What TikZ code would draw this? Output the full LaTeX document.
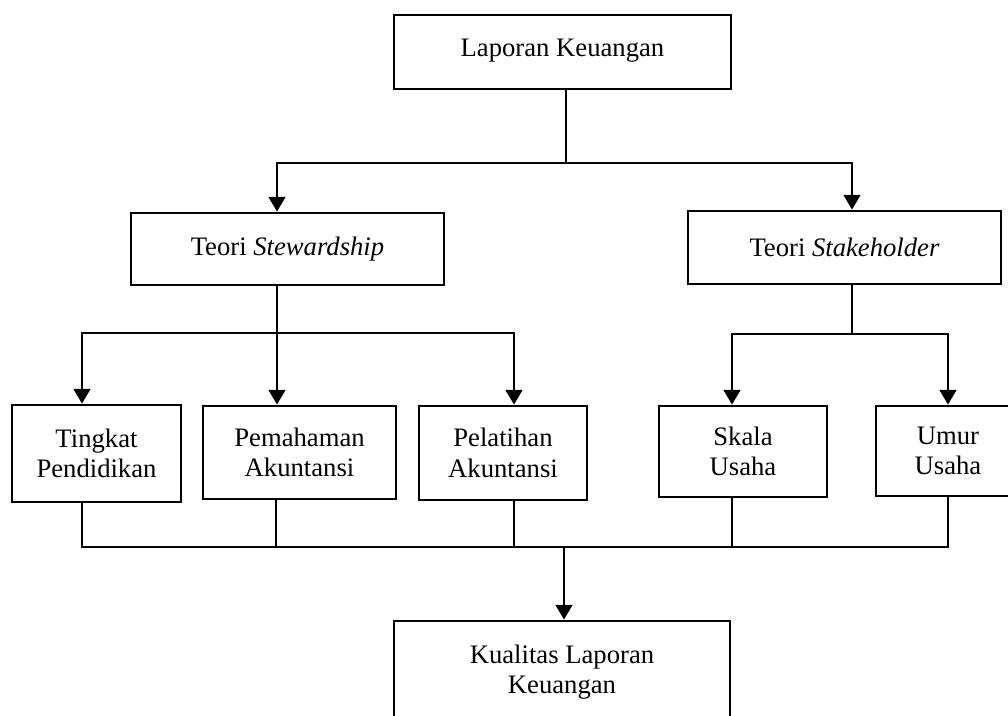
\documentclass[tikz,border=0pt]{standalone}
\usepackage{fontspec}
\setmainfont{Liberation Serif}
\usetikzlibrary{arrows.meta}
\begin{document}
\begin{tikzpicture}[x=0.75pt,y=-0.75pt,
  box/.style={draw, line width=2.1pt, inner sep=0pt, align=center, font=\fontsize{20}{23}\selectfont},
  conn/.style={line width=1.8pt},
  arr/.style={conn, -{Triangle[length=11pt,width=12.5pt]}}]
\clip (0,0) rectangle (1008,716);
\path[use as bounding box] (0,0) rectangle (1008,716);
% boxes
\node[box, minimum width=252.75pt, minimum height=55.5pt] (top) at (562.5,52) {\raisebox{6pt}{Laporan Keuangan}};
\node[box, minimum width=234.75pt, minimum height=54pt] (stew) at (287.5,249) {Teori \textit{Stewardship}};
\node[box, minimum width=234.75pt, minimum height=54.75pt] (stake) at (844.5,247.5) {Teori \textit{Stakeholder}};
\node[box, minimum width=126.75pt, minimum height=72.75pt] (ting) at (96.5,453.5) {Tingkat\\Pendidikan};
\node[box, minimum width=144.75pt, minimum height=69.75pt] (pema) at (299.5,452.5) {Pemahaman\\Akuntansi};
\node[box, minimum width=126pt, minimum height=70.5pt] (pela) at (503,453) {Pelatihan\\Akuntansi};
\node[box, minimum width=126pt, minimum height=68.25pt] (skala) at (743,451.5) {Skala\\Usaha};
\node[box, minimum width=108pt, minimum height=67.5pt] (umur) at (948,451) {Umur\\Usaha};
\node[box, minimum width=252pt, minimum height=76.5pt] (kual) at (562,672) {Kualitas Laporan\\Keuangan};
% junctions and x positions
\coordinate (j1) at (566,163);
\coordinate (xs) at (277,0);
\coordinate (xk) at (852,0);
\coordinate (j2) at (277,333);
\coordinate (j3) at (852,334);
\coordinate (xa) at (82,0);
\coordinate (xb) at (276,0);
\coordinate (xc) at (514,0);
\coordinate (xd) at (732,0);
\coordinate (xe) at (948,0);
\coordinate (j4) at (564,547);
% top level
\draw[conn] (top.south -| j1) -- (j1);
\draw[arr] (j1) -| (stew.north -| xs);
\draw[arr] (j1) -| (stake.north -| xk);
% stewardship
\draw[conn] (stew.south -| j2) -- (j2);
\draw[arr] (j2) -| (ting.north -| xa);
\draw[arr] (j2) -- (pema.north -| j2);
\draw[arr] (j2) -| (pela.north -| xc);
% stakeholder
\draw[conn] (stake.south -| j3) -- (j3);
\draw[arr] (j3) -| (skala.north -| xd);
\draw[arr] (j3) -| (umur.north -| xe);
% bottom collector
\draw[conn] (ting.south -| xa) |- (j4);
\draw[conn] (pema.south -| xb) |- (j4);
\draw[conn] (pela.south -| xc) |- (j4);
\draw[conn] (skala.south -| xd) |- (j4);
\draw[conn] (umur.south -| xe) |- (j4);
\draw[arr] (j4) -- (kual.north -| j4);
\end{tikzpicture}
\end{document}
